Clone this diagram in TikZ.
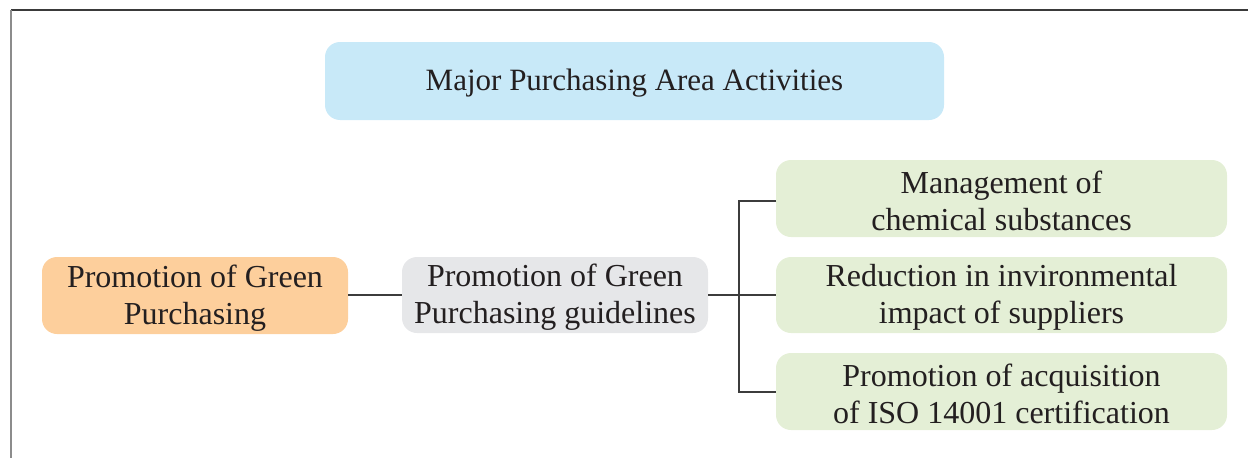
\documentclass[tikz,border=0pt]{standalone}
\usepackage{fontspec}
\setmainfont{Liberation Serif}
\definecolor{framedark}{HTML}{3A3A3A}
\definecolor{framegray}{HTML}{8C8C8C}
\definecolor{bluefill}{HTML}{C8E9F8}
\definecolor{orangefill}{HTML}{FDCF9C}
\definecolor{grayfill}{HTML}{E6E7E9}
\definecolor{greenfill}{HTML}{E4EFD6}
\definecolor{txt}{HTML}{231F20}
\definecolor{linec}{HTML}{3C3C3C}
\tikzset{
  px/.style={x=1pt,y=-1pt},
  boxbase/.style={rounded corners=15pt, inner sep=0pt, text=txt, align=center},
  conn/.style={draw=linec, line width=1.2pt},
  bodytext/.style={font=\fontsize{32}{37}\selectfont},
  titletext/.style={font=\fontsize{31}{34}\selectfont}
}
\begin{document}
\begin{tikzpicture}[px]
\useasboundingbox (0,0) rectangle (1248,458);
% frame
\draw[framedark, line width=1.5pt] (11,10) -- (1248,10);
\draw[framegray, line width=1.5pt] (11,10) -- (11,458);
% boxes
\fill[bluefill, boxbase] (325,42) rectangle (944,120);
\node[titletext, text=txt] (title) at (634.5,83) {Major Purchasing Area Activities};
\fill[orangefill, boxbase] (42,257) rectangle (348,334);
\node[bodytext, text=txt, align=center] (green) at (195,298) {Promotion of Green\\Purchasing};
\fill[grayfill, boxbase] (402,257) rectangle (708,333);
\node[bodytext, text=txt, align=center] (guide) at (555,297.5) {Promotion of Green\\Purchasing guidelines};
\fill[greenfill, boxbase] (776,160) rectangle (1227,237);
\node[bodytext, text=txt, align=center] (chem) at (1001.5,200.5) {Management of\\chemical substances};
\fill[greenfill, boxbase] (776,257) rectangle (1227,333);
\node[bodytext, text=txt, align=center] (env) at (1001.5,297.5) {Reduction in invironmental\\impact of suppliers};
\fill[greenfill, boxbase] (776,353) rectangle (1227,430);
\node[bodytext, text=txt, align=center] (iso) at (1001.5,394) {Promotion of acquisition\\of ISO 14001 certification};
% anchors for connectors
\coordinate (gR) at (348,295);
\coordinate (guL) at (402,295);
\coordinate (guR) at (708,295);
\coordinate (chL) at (776,201);
\coordinate (enL) at (776,295);
\coordinate (isL) at (776,392);
\coordinate (stemT) at (739,201);
\coordinate (stemB) at (739,392);
\draw[conn] (gR) -- (guL);
\draw[conn] (guR) -- (enL);
\draw[conn] (chL) -- (stemT) -- (stemB) -- (isL);
\end{tikzpicture}
\end{document}
